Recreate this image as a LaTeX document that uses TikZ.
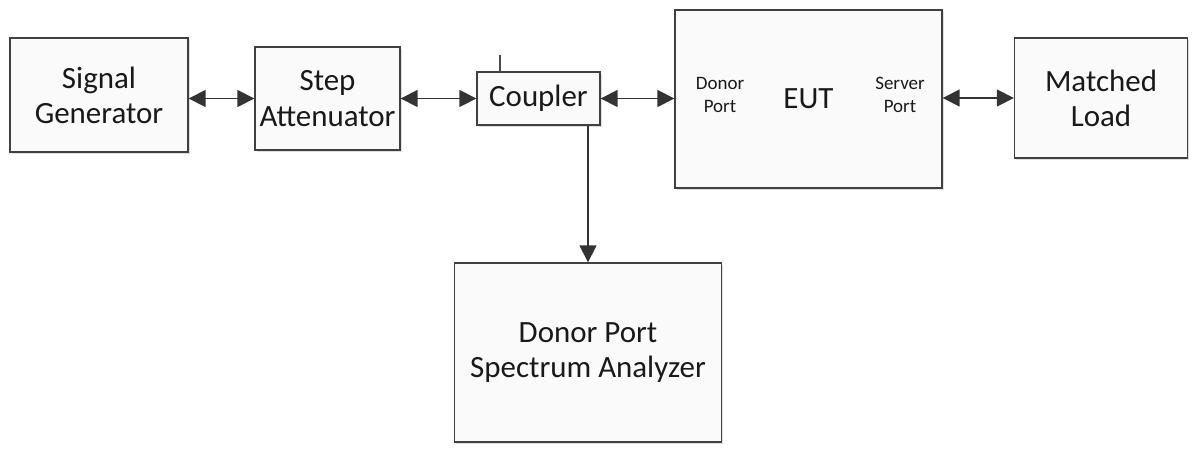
\documentclass[tikz,border=0pt]{standalone}
\usepackage{fontspec}
\setmainfont{Carlito}
\usetikzlibrary{arrows.meta,shadows}
\tikzset{
  block/.style={draw=black!75, fill=gray!4, line width=0.9pt, align=center,
    inner sep=0pt, text=black!90, font=\fontsize{22}{25}\selectfont,
    drop shadow={opacity=0.25, shadow xshift=1.2pt, shadow yshift=-1.2pt}},
  portlabel/.style={align=center, text=black!90, font=\fontsize{13.5}{16}\selectfont},
  link/.style={draw=black!80, line width=0.9pt, {Triangle[length=12pt,width=12pt]}-{Triangle[length=12pt,width=12pt]}},
  feed/.style={draw=black!80, line width=0.9pt, -{Triangle[length=12pt,width=12pt]}}
}
\begin{document}
\begin{tikzpicture}[x=0.025cm,y=-0.025cm]
\useasboundingbox (0,0) rectangle (1195,448);
%Top row
  \node[block, minimum width=4.45cm, minimum height=2.85cm] (gen) at (99,95) {Signal\\Generator};
  \node[block, minimum width=3.625cm, minimum height=2.575cm] (att) at (327.5,98.5) {Step\\Attenuator};
  \node[block, minimum width=3.075cm, minimum height=1.325cm] (cpl) at (538.5,98.5) {Coupler};
  \node[block, minimum width=6.675cm, minimum height=4.45cm] (eut) at (808.5,99) {EUT};
  \node[block, minimum width=4.325cm, minimum height=3cm] (load) at (1101,98) {Matched\\Load};
  %port labels inside EUT
  \node[portlabel] (donor) at (720,95) {Donor\\Port};
  \node[portlabel] (server) at (900,95) {Server\\Port};
%Analyzer
  \node[block, minimum width=6.675cm, minimum height=4.475cm] (sa) at (588,352.5) {Donor Port\\Spectrum Analyzer};
%Links
  \draw[link] (gen.east |- att.west) -- (att.west);
  \draw[link] (att.east) -- (cpl.west);
  \draw[link] (cpl.east) -- (cpl.east -| eut.west);
  \draw[link] (eut.east |- load.west) -- (load.west);
  \draw[feed] (sa.north |- cpl.south) -- (sa.north);
  %coupler stub
  \coordinate (stub) at (500,55);
  \draw[draw=black!70, line width=0.8pt] (stub) -- (stub |- cpl.north);
\end{tikzpicture}
\end{document}
